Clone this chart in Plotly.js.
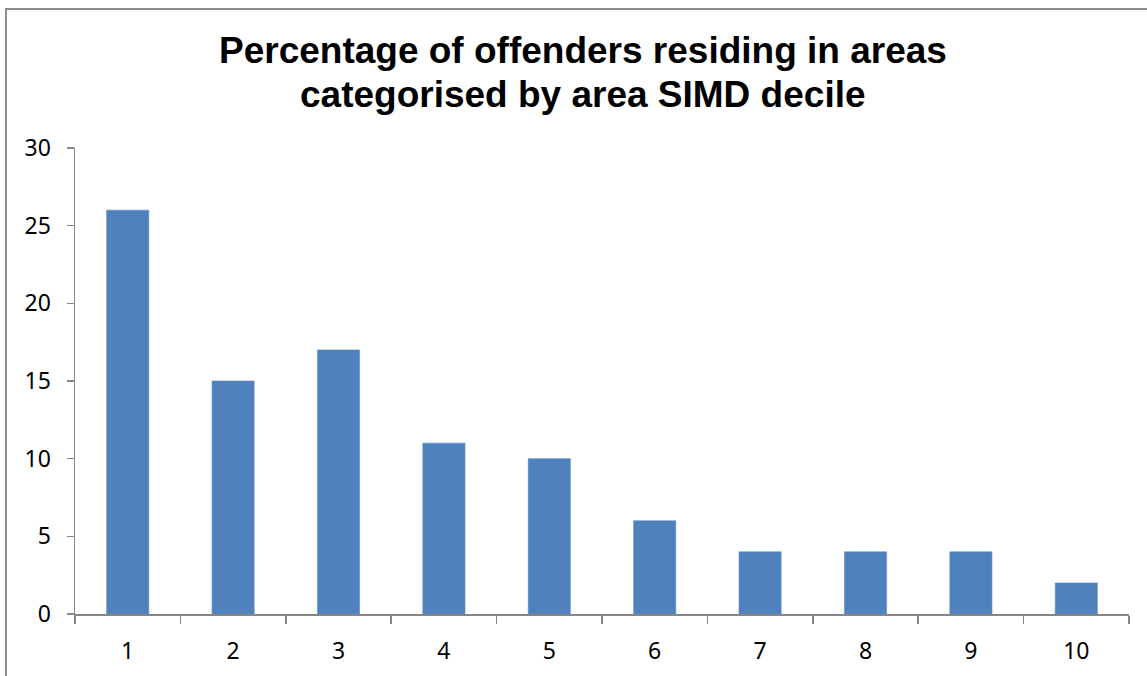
<!DOCTYPE html>
<html>
<head>
<meta charset="utf-8">
<script src="https://cdn.plot.ly/plotly-3.0.1.min.js"></script>
<style>
  html, body { margin: 0; padding: 0; background: #ffffff; }
  #chart { width: 1147px; height: 676px; }
</style>
</head>
<body>
<div id="chart"></div>
<script>
// SIMD deciles (1 = most deprived) and share of offenders in each
const deciles = ['1', '2', '3', '4', '5', '6', '7', '8', '9', '10'];
const offenderPct = [26, 15, 17, 11, 10, 6, 4, 4, 4, 2];
const yTicks = [0, 5, 10, 15, 20, 25, 30];
const titleLines = [
  'Percentage of offenders residing in areas',
  'categorised by area SIMD decile'
];

const plotLeft = 75, plotRight = 1129, plotTop = 148, plotBottom = 614;
const W = 1147, H = 676;
const pw = plotRight - plotLeft, ph = plotBottom - plotTop;
const px = v => (v - plotLeft) / pw;
const py = v => (plotBottom - v) / ph;

const trace = {
  type: 'bar',
  x: deciles,
  y: offenderPct,
  marker: { color: '#4F81BD', line: { color: '#5B8CC6', width: 0.6 } },
  hoverinfo: 'x+y'
};

const titleFont = { family: 'Liberation Sans, Arial, sans-serif', size: 37, color: '#000000', weight: 'bold' };
const tickFont = { family: 'Noto Sans, Open Sans, sans-serif', size: 23, color: '#000000' };

// title drawn as two lines with tight leading
const titleCentres = [51, 94];
const annotations = titleLines.map((t, i) => ({
  text: t,
  xref: 'paper', yref: 'paper',
  x: px(583), y: py(titleCentres[i]),
  xanchor: 'center', yanchor: 'middle',
  showarrow: false,
  font: titleFont
}));

const layout = {
  width: W,
  height: H,
  margin: { l: plotLeft, r: W - plotRight, t: plotTop, b: H - plotBottom, pad: 0 },
  paper_bgcolor: '#ffffff',
  plot_bgcolor: '#ffffff',
  showlegend: false,
  bargap: 0.6,
  xaxis: {
    type: 'category',
    tickson: 'boundaries',
    ticks: 'outside',
    ticklen: 8,
    tickwidth: 1.5,
    tickcolor: '#868686',
    showline: true,
    linecolor: '#868686',
    linewidth: 1.5,
    showgrid: false,
    zeroline: false,
    tickfont: tickFont,
    ticklabelstandoff: 16,
    fixedrange: true
  },
  yaxis: {
    range: [0, 30],
    tickvals: yTicks,
    ticktext: yTicks.map(String),
    ticks: 'outside',
    ticklen: 7,
    tickwidth: 1.5,
    tickcolor: '#868686',
    showline: true,
    linecolor: '#868686',
    linewidth: 1.5,
    showgrid: false,
    zeroline: false,
    tickfont: tickFont,
    ticklabelstandoff: 11,
    fixedrange: true
  },
  annotations: annotations,
  shapes: [{
    type: 'rect',
    xref: 'paper', yref: 'paper',
    x0: px(6), x1: px(1152),
    y0: py(682), y1: py(9),
    line: { color: '#8C8C8C', width: 2 },
    fillcolor: 'rgba(0,0,0,0)',
    layer: 'below'
  }]
};

Plotly.newPlot('chart', [trace], layout, { displayModeBar: false, staticPlot: true });
</script>
</body>
</html>
